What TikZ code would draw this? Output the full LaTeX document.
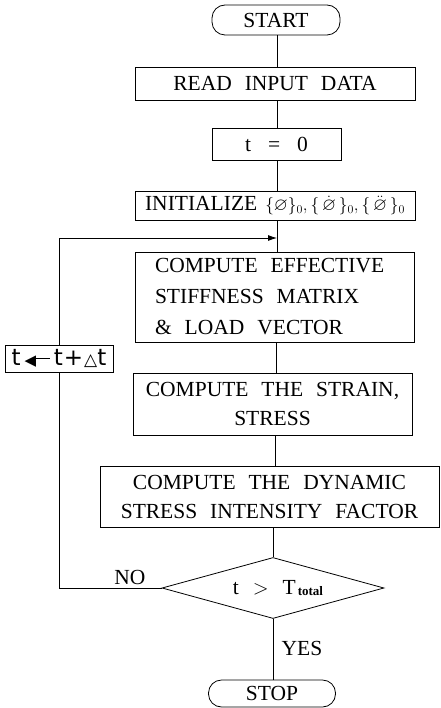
\documentclass[tikz,border=0pt]{standalone}
\usepackage{amssymb}
\usepackage{fontspec}
\setmainfont{Liberation Serif}[WordSpace=2.4]
\newfontfamily\dvs{DejaVu Sans}
\usetikzlibrary{shapes.geometric,arrows.meta}
\begin{document}
\begin{tikzpicture}[x=1pt,y=-1pt,
  box/.style={draw, line width=0.8pt, inner sep=0pt, font=\fontsize{21.5}{29}\selectfont, align=center},
  term/.style={box, rounded corners=13pt},
  link/.style={line width=0.8pt},
  lbl/.style={font=\fontsize{21.5}{26}\selectfont, inner sep=0pt}]
\useasboundingbox (0,0) rectangle (440,708);
\node[term, minimum width=128pt, minimum height=30pt] (start) at (276,20) {START};
\node[box, minimum width=280pt, minimum height=33pt] (read) at (275,83.5) {READ INPUT DATA};
\node[box, minimum width=129pt, minimum height=32pt] (t0) at (276.5,144) {t\hspace{17pt}=\hspace{17pt}0};
\node[box, minimum width=280pt, minimum height=29pt] (init) at (275,205.5)
  {INITIALIZE\hspace{8pt}{\fontsize{18}{18}\selectfont$\{\varnothing\}_0,\{\,\dot{\varnothing}\,\}_0,\{\,\ddot{\varnothing}\,\}_0$}};
\node[box, minimum width=279pt, minimum height=90pt, inner xsep=20pt, text width=239pt, align=left,
  font=\fontsize{21.5}{31}\selectfont] (eff) at (274.5,297)
  {\spaceskip=13pt plus 2pt minus 1pt COMPUTE EFFECTIVE\\STIFFNESS MATRIX\\\& LOAD VECTOR};
\node[box, minimum width=279pt, minimum height=62pt] (strain) at (272.5,404) {COMPUTE THE STRAIN,\\STRESS};
\node[box, minimum width=339pt, minimum height=61pt] (dyn) at (269.5,496.5) {COMPUTE THE DYNAMIC\\STRESS INTENSITY FACTOR};
\node[draw, diamond, aspect=3.64, minimum width=222pt, minimum height=61pt, inner sep=0pt,
  line width=0.8pt, font=\fontsize{21.5}{26}\selectfont] (dec) at (273,588)
  {\hspace{10pt}t\hspace{14pt}$>$\hspace{14pt}T\hspace{2pt}\raisebox{-1pt}{\fontsize{13}{13}\selectfont\bfseries total}};
\node[term, minimum width=127pt, minimum height=27pt] (stop) at (272,693.5) {STOP};
\node[box, minimum width=108pt, minimum height=27pt, font=\dvs\fontsize{23}{24}\selectfont] (upd) at (59,358.5)
  {t\,{\fontsize{15}{15}\selectfont◀}\kern-3pt\rule[6.8pt]{17pt}{1pt}\,t\hspace{1pt}+\hspace{1pt}{\fontsize{17}{17}\selectfont △}t};
\coordinate (j) at (277,238);
\node[lbl] (no) at (130,577) {NO};
\node[lbl] (yes) at (302,648) {YES};
% connectors
\draw[link] (start.south -| j) -- (read.north -| j);
\draw[link] (read.south -| j) -- (t0.north -| j);
\draw[link] (t0.south -| j) -- (init.north -| j);
\draw[link] (init.south -| j) -- (eff.north -| j);
\draw[link] (eff.south -| 276,0) -- (strain.north -| 276,0);
\draw[link] (strain.south -| 275,0) -- (dyn.north -| 275,0);
\draw[link] (dyn.south -| dec.north) -- (dec.north);
\draw[link] (dec.south) -- (stop.north -| dec.south);
\draw[link] (dec.west) -| (upd.south);
\draw[link, -{Latex[length=9pt,width=6pt]}] (upd.north) |- (j);
\end{tikzpicture}
\end{document}
